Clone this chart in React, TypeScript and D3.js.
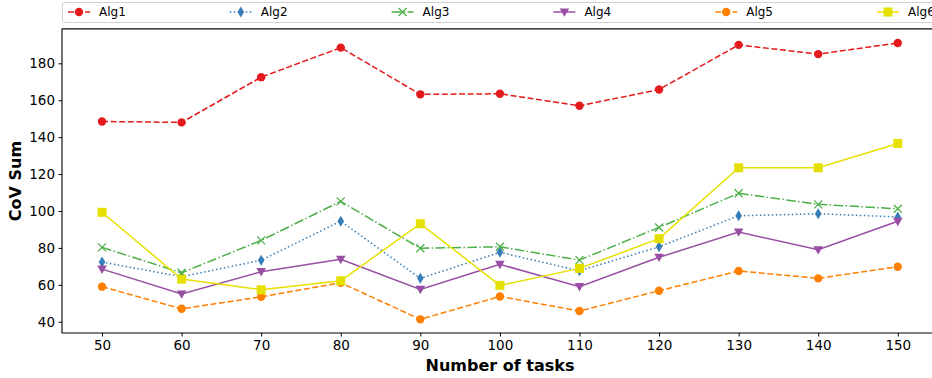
import * as d3 from 'd3';
import { useEffect, useRef } from 'react';

const tasks = [50, 60, 70, 80, 90, 100, 110, 120, 130, 140, 150];
const yTicks = [40, 60, 80, 100, 120, 140, 160, 180];

const alg1 = [148.5, 148, 172.5, 188.5, 163.2, 163.5, 157, 165.8, 190, 185, 191];
const alg2 = [72.3, 64.4, 73.3, 94.5, 63.5, 77.6, 67.6, 80.6, 97.4, 98.5, 96.8];
const alg3 = [80.3, 66.5, 84.1, 105.2, 79.8, 80.6, 73.4, 91.1, 109.6, 103.6, 101.2];
const alg4 = [68.5, 55, 67.1, 73.8, 57.5, 71.1, 59, 74.9, 88.6, 79, 94.4];
const alg5 = [59, 47, 53.5, 61.1, 41.3, 53.7, 45.8, 56.8, 67.5, 63.5, 69.8];
const alg6 = [99.3, 63.1, 57.3, 62.2, 93.1, 59.7, 68.9, 85, 123.4, 123.4, 136.6];

const series = [
    { name: 'Alg1', values: alg1, color: '#e41a1c', dash: '6,2.6', marker: 'circle' },
    { name: 'Alg2', values: alg2, color: '#377eb8', dash: '1.5,2.5', marker: 'thin_diamond' },
    { name: 'Alg3', values: alg3, color: '#4daf4a', dash: '9.6,2.4,1.5,2.4', marker: 'x' },
    { name: 'Alg4', values: alg4, color: '#984ea3', dash: null, marker: 'triangle_down' },
    { name: 'Alg5', values: alg5, color: '#ff7f00', dash: '6,2.6', marker: 'circle' },
    { name: 'Alg6', values: alg6, color: '#e6e000', dash: null, marker: 'square' },
];

const width = 932, height = 378;
const margin = { top: 29, left: 62, bottom: 333 };

function drawMarker(g, type, color) {
    if (type === 'circle') {
        g.append('circle').attr('r', 4.2).attr('fill', color);
    } else if (type === 'square') {
        g.append('rect').attr('x', -4.5).attr('y', -4.5).attr('width', 9).attr('height', 9).attr('fill', color);
    } else if (type === 'thin_diamond') {
        g.append('path').attr('d', 'M0,-5.5L3.3,0L0,5.5L-3.3,0Z').attr('fill', color);
    } else if (type === 'triangle_down') {
        g.append('path').attr('d', 'M-4.8,-3.6L4.8,-3.6L0,4.8Z').attr('fill', color);
    } else if (type === 'x') {
        g.append('path').attr('d', 'M-4,-4L4,4M-4,4L4,-4')
            .attr('stroke', color).attr('stroke-width', 1.3).attr('fill', 'none');
    }
}

export default function App() {
    const ref = useRef(null);

    useEffect(() => {
        const svg = d3.select(ref.current);
        svg.selectAll('*').remove();

        const x = d3.scaleLinear().domain([44.97, 154.3]).range([margin.left, width]);
        const y = d3.scaleLinear().domain([33.9, 198.6]).range([margin.bottom, margin.top]);

        svg.append('rect').attr('width', width).attr('height', height).attr('fill', 'white');

        // legend box
        svg.append('rect')
            .attr('x', 62.5).attr('y', 2.5).attr('width', 900).attr('height', 20)
            .attr('rx', 2).attr('fill', 'white').attr('stroke', '#d0d0d0').attr('stroke-width', 1);

        series.forEach((s, i) => {
            const lx = 68 + i * 161.8;
            const lg = svg.append('g');
            lg.append('line')
                .attr('x1', lx).attr('x2', lx + 22).attr('y1', 12).attr('y2', 12)
                .attr('stroke', s.color).attr('stroke-width', 1.5)
                .attr('stroke-dasharray', s.dash);
            drawMarker(lg.append('g').attr('transform', `translate(${lx + 11},12)`), s.marker, s.color);
            lg.append('text')
                .attr('x', lx + 31).attr('y', 16.2)
                .attr('font-family', 'DejaVu Sans').attr('font-size', 12)
                .attr('fill', '#000').text(s.name);
        });

        // spines
        svg.append('path')
            .attr('d', `M${width + 5},${margin.top}H${margin.left}V${margin.bottom}H${width + 5}`)
            .attr('fill', 'none').attr('stroke', '#000').attr('stroke-width', 1.1);
        svg.append('line')
            .attr('x1', margin.left).attr('x2', width).attr('y1', margin.top - 0.5).attr('y2', margin.top - 0.5)
            .attr('stroke', '#444').attr('stroke-width', 1.2);

        // x axis
        const xAxis = svg.append('g')
            .attr('transform', `translate(0,${margin.bottom})`)
            .call(d3.axisBottom(x).tickValues(tasks).tickSize(3.5).tickPadding(3.5).tickSizeOuter(0));
        xAxis.select('.domain').remove();
        xAxis.selectAll('text').attr('font-family', 'DejaVu Sans').attr('font-size', 13.5).attr('fill', '#000');

        // y axis
        const yAxis = svg.append('g')
            .attr('transform', `translate(${margin.left},0)`)
            .call(d3.axisLeft(y).tickValues(yTicks).tickSize(3.5).tickPadding(3.5).tickSizeOuter(0));
        yAxis.select('.domain').remove();
        yAxis.selectAll('text').attr('font-family', 'DejaVu Sans').attr('font-size', 13.5).attr('fill', '#000');

        // axis labels
        svg.append('text')
            .attr('x', 500).attr('y', 371).attr('text-anchor', 'middle')
            .attr('font-family', 'DejaVu Sans').attr('font-weight', 'bold').attr('font-size', 16)
            .text('Number of tasks');
        svg.append('text')
            .attr('transform', `translate(21,${(margin.top + margin.bottom) / 2}) rotate(-90)`)
            .attr('text-anchor', 'middle')
            .attr('font-family', 'DejaVu Sans').attr('font-weight', 'bold').attr('font-size', 16)
            .text('CoV Sum');

        // lines and markers
        const line = d3.line().x((d, i) => x(tasks[i])).y(d => y(d));
        series.forEach(s => {
            svg.append('path')
                .datum(s.values)
                .attr('d', line)
                .attr('fill', 'none')
                .attr('stroke', s.color)
                .attr('stroke-width', 1.5)
                .attr('stroke-dasharray', s.dash);
            s.values.forEach((v, i) => {
                drawMarker(svg.append('g').attr('transform', `translate(${x(tasks[i])},${y(v)})`), s.marker, s.color);
            });
        });
    }, []);

    return (
        <svg ref={ref} width={width} height={height}
            style={{ position: 'absolute', left: 0, top: 0, display: 'block' }} />
    );
}
